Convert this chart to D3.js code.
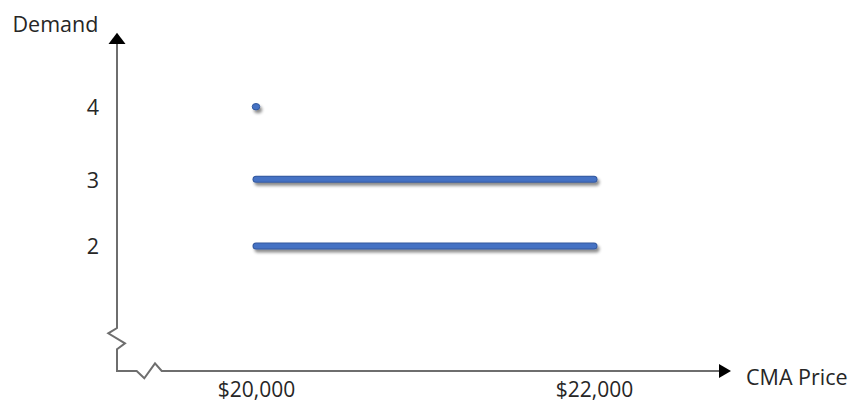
<!DOCTYPE html>
<html>
<head>
<meta charset="utf-8">
<script src="https://cdn.jsdelivr.net/npm/d3@7"></script>
<style>
  html, body { margin: 0; padding: 0; background: #fff; }
  svg { display: block; }
  text { font-family: "Open Sans", "Noto Sans", sans-serif; fill: #262626; }
</style>
</head>
<body>
<div id="chart"></div>
<script>
// Demand level for each price band
const demandLevels = [4, 3, 2];
// Lower and upper CMA price of each band (equal values = a single point)
const priceLow  = [20000, 20000, 20000];
const priceHigh = [20000, 22000, 22000];
// Tick labels
const yTicks = [4, 3, 2];
const xTicks = [20000, 22000];
const xTickLabels = ["$20,000", "$22,000"];
const xTitle = "CMA Price";
const yTitle = "Demand";

const W = 852, H = 402;
const axisX = 117, axisY = 371;

const svg = d3.select("#chart").append("svg")
  .attr("width", W).attr("height", H);

const defs = svg.append("defs");
const shadow = defs.append("filter").attr("id", "shadow")
  .attr("x", "-10%").attr("y", "-100%").attr("width", "120%").attr("height", "300%");
shadow.append("feDropShadow")
  .attr("dx", 2).attr("dy", 3).attr("stdDeviation", 1.6)
  .attr("flood-color", "#000").attr("flood-opacity", 0.45);

const x = d3.scaleLinear().domain([20000, 22000]).range([256, 594]);
const y = d3.scaleLinear().domain([2, 3, 4]).range([246, 179.2, 106.7]);

const axisColor = "#6e6e6e";

// Axis lines with break marks near the origin
const axisPath = d3.path();
axisPath.moveTo(axisX, 44);
axisPath.lineTo(axisX, 328);
axisPath.lineTo(108.3, 333.3);
axisPath.lineTo(125, 343.3);
axisPath.lineTo(axisX, 349.3);
axisPath.lineTo(axisX, axisY);
axisPath.lineTo(136.7, axisY);
axisPath.lineTo(144.3, 378.3);
axisPath.lineTo(155, 363.3);
axisPath.lineTo(161.7, axisY);
axisPath.lineTo(720, axisY);
svg.append("path").attr("d", axisPath.toString())
  .attr("fill", "none").attr("stroke", axisColor).attr("stroke-width", 2)
  .attr("stroke-linejoin", "miter");

// Arrow heads
svg.append("path")
  .attr("d", `M${axisX},32.7 L${axisX + 8.5},44 L${axisX - 8.5},44 Z`)
  .attr("fill", "#000");
svg.append("path")
  .attr("d", `M731,${axisY} L719,${axisY - 7} L719,${axisY + 7} Z`)
  .attr("fill", "#000");

// Y tick labels
const yAxis = d3.axisLeft(y).tickValues(yTicks).tickSize(0).tickPadding(18)
  .tickFormat(d3.format("d"));
const gy = svg.append("g").attr("transform", `translate(${axisX},0)`).call(yAxis);
gy.select(".domain").remove();
gy.selectAll("text")
  .attr("font-family", "'Open Sans', sans-serif")
  .attr("font-size", 21.5).attr("fill", "#262626")
  .attr("dy", "0.37em");

// X tick labels
const xAxis = d3.axisBottom(x).tickValues(xTicks).tickSize(0).tickPadding(11)
  .tickFormat((d, i) => xTickLabels[i]);
const gx = svg.append("g").attr("transform", `translate(0,${axisY})`).call(xAxis);
gx.select(".domain").remove();
gx.selectAll("text")
  .attr("font-family", "'Open Sans', sans-serif")
  .attr("font-size", 21).attr("fill", "#262626");

// Axis titles
svg.append("text").attr("x", 12.5).attr("y", 32)
  .attr("font-size", 21.5).text(yTitle);
svg.append("text").attr("x", 746).attr("y", 385)
  .attr("font-size", 21.5).text(xTitle);

// Price bands
const bands = demandLevels.map((d, i) => ({ demand: d, lo: priceLow[i], hi: priceHigh[i] }));
const gBands = svg.append("g").attr("filter", "url(#shadow)");

const segs = bands.filter(b => b.hi > b.lo);
const pts = bands.filter(b => b.hi === b.lo);

gBands.selectAll("line.outer").data(segs).join("line")
  .attr("class", "outer")
  .attr("x1", d => x(d.lo)).attr("x2", d => x(d.hi))
  .attr("y1", d => y(d.demand)).attr("y2", d => y(d.demand))
  .attr("stroke", "#34599e").attr("stroke-width", 7)
  .attr("stroke-linecap", "round");
gBands.selectAll("line.inner").data(segs).join("line")
  .attr("class", "inner")
  .attr("x1", d => x(d.lo)).attr("x2", d => x(d.hi))
  .attr("y1", d => y(d.demand)).attr("y2", d => y(d.demand))
  .attr("stroke", "#4472c4").attr("stroke-width", 5)
  .attr("stroke-linecap", "round");

gBands.selectAll("ellipse").data(pts).join("ellipse")
  .attr("cx", d => x(d.lo)).attr("cy", d => y(d.demand))
  .attr("rx", 3.8).attr("ry", 3.2)
  .attr("fill", "#4472c4").attr("stroke", "#34599e").attr("stroke-width", 1);
</script>
</body>
</html>
